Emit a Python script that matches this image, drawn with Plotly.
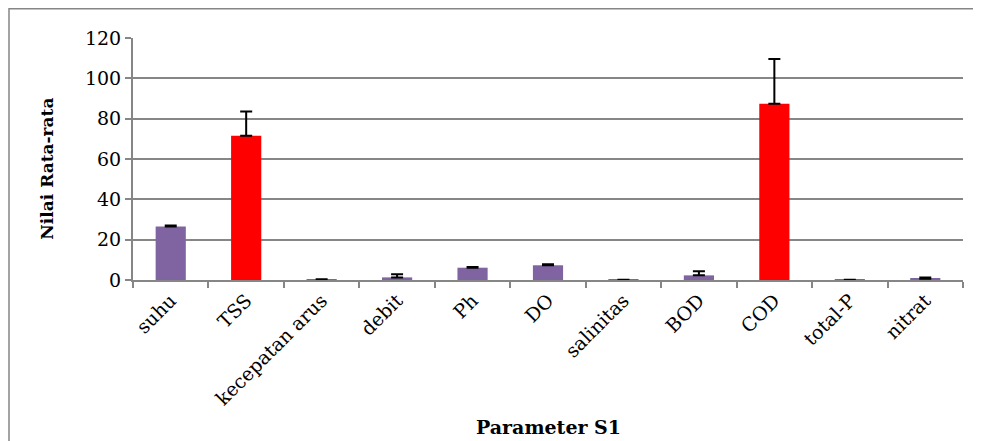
import plotly.graph_objects as go

categories = ["suhu", "TSS", "kecepatan arus", "debit", "Ph", "DO",
              "salinitas", "BOD", "COD", "total-P", "nitrat"]
values = [26.5, 71.5, 0.3, 1.3, 6.1, 7.3, 0.1, 2.3, 87.4, 0.1, 0.6]
errors = [0.5, 12.1, 0.1, 1.5, 0.3, 0.5, 0.05, 2.0, 22.2, 0.05, 0.6]
colors = ["#8064A2", "#FF0000", "#8064A2", "#8064A2", "#8064A2", "#8064A2",
          "#8064A2", "#8064A2", "#FF0000", "#8064A2", "#8064A2"]
y_ticks = [0, 20, 40, 60, 80, 100, 120]

GRID = "#868686"
FONT = "DejaVu Serif"

fig = go.Figure()
fig.add_trace(go.Bar(
    x=categories, y=values,
    marker=dict(color=colors, line=dict(width=0)),
    error_y=dict(type="data", array=errors, arrayminus=[0]*len(errors),
                 symmetric=False, color="black", thickness=2, width=6),
))

fig.update_layout(
    width=973, height=433,
    margin=dict(l=125, r=18, t=30, b=161, autoexpand=False),
    paper_bgcolor="white", plot_bgcolor="white",
    bargap=0.6, showlegend=False,
    font=dict(family=FONT, color="black"),
    xaxis=dict(
        type="category", tickangle=-45, tickson="boundaries",
        ticks="outside", ticklen=6, tickcolor=GRID, tickwidth=1.5,
        showline=True, linecolor=GRID, linewidth=2,
        tickfont=dict(family=FONT, size=19),
        showgrid=False, automargin=False,
    ),
    yaxis=dict(
        range=[0, 120], tickvals=y_ticks,
        ticks="outside", ticklen=6, tickcolor=GRID, tickwidth=1.5,
        showline=True, linecolor=GRID, linewidth=2,
        showgrid=True, gridcolor=GRID, gridwidth=2,
        zeroline=False, automargin=False,
        tickfont=dict(family=FONT, size=19),
    ),
)

fig.add_annotation(text="<b>Parameter S1</b>", xref="paper", yref="paper",
                   x=0.5, y=-0.608, xanchor="center", yanchor="middle",
                   showarrow=False, font=dict(family=FONT, size=19))
fig.add_annotation(text="<b>Nilai Rata-rata</b>", xref="paper", yref="paper",
                   x=-0.1036, y=0.46, xanchor="center", yanchor="middle",
                   textangle=-90, showarrow=False, font=dict(family=FONT, size=17))

fig.add_shape(type="rect", xref="paper", yref="paper",
              x0=-0.1494, x1=1.2, y0=-1.0, y1=1.1212,
              line=dict(color=GRID, width=1.5), layer="below")

fig.write_html("out.html")
